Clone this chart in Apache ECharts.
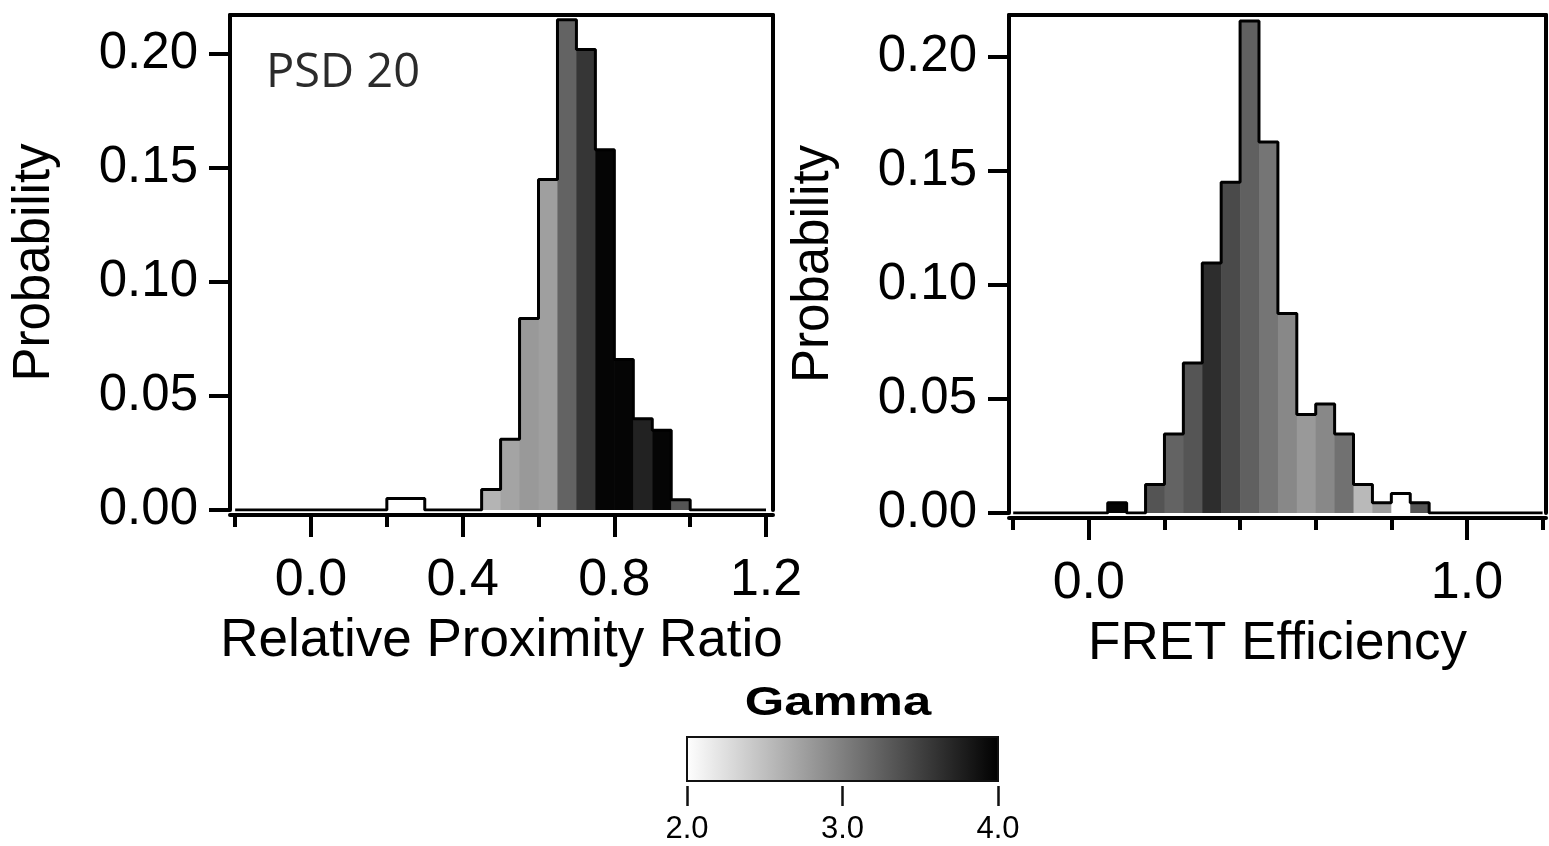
<!DOCTYPE html>
<html>
<head>
<meta charset="utf-8">
<title>PSD 20 - proximity ratio and FRET efficiency</title>
<script src="https://cdn.jsdelivr.net/npm/echarts@6/dist/echarts.min.js"></script>
<style>
html, body { margin: 0; padding: 0; background: #fff; }
#chart { width: 1549px; height: 846px; }
</style>
</head>
<body>
<div id="chart"></div>
<script>
// histogram bins (left edges), width 0.05, same for both panels
var binStarts = [-0.20, -0.15, -0.10, -0.05, 0.00, 0.05, 0.10, 0.15, 0.20, 0.25,
    0.30, 0.35, 0.40, 0.45, 0.50, 0.55, 0.60, 0.65, 0.70, 0.75,
    0.80, 0.85, 0.90, 0.95, 1.00, 1.05, 1.10, 1.15];
var binWidth = 0.05;

// relative proximity ratio
var rprProb = [0, 0, 0, 0, 0, 0, 0, 0, 0.005, 0.005,
    0, 0, 0, 0.009, 0.031, 0.084, 0.145, 0.215, 0.202, 0.158,
    0.066, 0.040, 0.035, 0.0045, 0, 0, 0, 0];
var rprGamma = [null, null, null, null, null, null, null, null, 2.0, 2.0,
    null, null, null, 2.59, 2.71, 2.80, 2.75, 3.22, 3.58, 3.96,
    3.96, 3.73, 3.96, 3.33, null, null, null, null];

// FRET efficiency
var fretProb = [0, 0, 0, 0, 0, 0.0045, 0, 0.0125, 0.0346, 0.0658,
    0.1096, 0.145, 0.2157, 0.1626, 0.0875, 0.0432, 0.0478, 0.0346, 0.0125, 0.0045,
    0.0085, 0.0045, 0, 0, 0, 0, 0, 0];
var fretGamma = [null, null, null, null, null, 3.96, null, 3.34, 3.22, 3.33,
    3.65, 3.42, 3.25, 3.08, 2.93, 2.80, 2.93, 3.11, 2.55, 2.78,
    2.0, 3.33, null, null, null, null, null, null];

// tick labels
var probTicks = [0, 0.05, 0.10, 0.15, 0.20];
var rprMajor = [0, 0.4, 0.8, 1.2];
var rprMinor = [-0.2, 0.2, 0.6, 1.0];
var fretMajor = [0, 1.0];
var fretMinor = [-0.2, 0.2, 0.4, 0.6, 0.8, 1.2];
var gammaTicks = [2, 3, 4];
var gammaRange = [2, 4];

var FONT = 'Liberation Sans';
var LW = 4;

function toBars(prob, gamma) {
    var out = [];
    for (var i = 0; i < binStarts.length; i++) {
        if (prob[i] > 0) {
            out.push([binStarts[i], binStarts[i] + binWidth, prob[i], gamma[i]]);
        }
    }
    return out;
}

// step outline around the whole histogram
function toOutline(prob) {
    var pts = [[binStarts[0], 0]];
    for (var i = 0; i < binStarts.length; i++) {
        pts.push([binStarts[i], prob[i]]);
        pts.push([binStarts[i] + binWidth, prob[i]]);
    }
    pts.push([binStarts[binStarts.length - 1] + binWidth, 0]);
    return pts;
}

function renderBin(params, api) {
    var p0 = api.coord([api.value(0), api.value(2)]);
    var p1 = api.coord([api.value(1), 0]);
    return {
        type: 'rect',
        shape: { x: p0[0], y: p0[1], width: p1[0] - p0[0] + 0.6, height: p1[1] - p0[1] },
        style: { fill: api.visual('color') }
    };
}

function renderColorbar(params, api) {
    var p0 = api.coord([api.value(0), 1]);
    var p1 = api.coord([api.value(1), 0]);
    return {
        type: 'rect',
        shape: { x: p0[0], y: p0[1], width: p1[0] - p0[0], height: p1[1] - p0[1] },
        style: {
            fill: new echarts.graphic.LinearGradient(0, 0, 1, 0, [
                { offset: 0, color: '#ffffff' },
                { offset: 1, color: '#000000' }
            ]),
            stroke: '#111',
            lineWidth: 2
        }
    };
}

function fmt(d) {
    return function (v) { return v.toFixed(d); };
}

// bottom axis with long ticks + labels
function xMain(grid, min, max, ticks, name) {
    return {
        gridIndex: grid, type: 'value', position: 'bottom', min: min, max: max, offset: 5,
        axisLine: { onZero: false, lineStyle: { color: '#000', width: LW } },
        axisTick: { customValues: ticks, length: 22, lineStyle: { color: '#000', width: LW } },
        axisLabel: { customValues: ticks, formatter: fmt(1), fontSize: 52, fontFamily: FONT, color: '#000', margin: 40 },
        splitLine: { show: false },
        name: name, nameLocation: 'middle', nameGap: 100,
        nameTextStyle: { fontSize: 53, fontFamily: FONT, color: '#000' }
    };
}

// bottom axis with short ticks only
function xMinor(grid, min, max, ticks) {
    return {
        gridIndex: grid, type: 'value', position: 'bottom', min: min, max: max, offset: 5,
        axisLine: { show: false, onZero: false },
        axisTick: { customValues: ticks, length: 12, lineStyle: { color: '#000', width: LW } },
        axisLabel: { show: false },
        splitLine: { show: false }
    };
}

// plain frame line
function xTop(grid, min, max) {
    return {
        gridIndex: grid, type: 'value', position: 'top', min: min, max: max,
        axisLine: { onZero: false, lineStyle: { color: '#000', width: LW } },
        axisTick: { show: false }, axisLabel: { show: false }, splitLine: { show: false }
    };
}

function yMain(grid, max) {
    return {
        gridIndex: grid, type: 'value', position: 'left', min: 0, max: max,
        axisLine: { onZero: false, lineStyle: { color: '#000', width: LW } },
        axisTick: { customValues: probTicks, length: 21, lineStyle: { color: '#000', width: LW } },
        axisLabel: { customValues: probTicks, formatter: fmt(2), fontSize: 51, fontFamily: FONT, color: '#000', margin: 32 },
        splitLine: { show: false },
        name: 'Probability', nameLocation: 'middle', nameGap: 170, nameRotate: 90,
        nameTextStyle: { fontSize: 51, fontFamily: FONT, color: '#000' }
    };
}

function yRight(grid, max) {
    return {
        gridIndex: grid, type: 'value', position: 'right', min: 0, max: max,
        axisLine: { onZero: false, lineStyle: { color: '#000', width: LW } },
        axisTick: { show: false }, axisLabel: { show: false }, splitLine: { show: false }
    };
}

var chart = echarts.init(document.getElementById('chart'));

var rprX = [-0.2136, 1.2184];
var fretX = [-0.2111, 1.209];

var option = {
    animation: false,
    backgroundColor: '#fff',
    grid: [
        { left: 230, top: 15, width: 543, height: 495, outerBoundsMode: 'none' },
        { left: 1009, top: 15, width: 537, height: 498, outerBoundsMode: 'none' },
        { left: 687, top: 737, width: 311, height: 44, outerBoundsMode: 'none' }
    ],
    xAxis: [
        xMain(0, rprX[0], rprX[1], rprMajor, 'Relative Proximity Ratio'),
        xMinor(0, rprX[0], rprX[1], rprMinor),
        xTop(0, rprX[0], rprX[1]),
        xMain(1, fretX[0], fretX[1], fretMajor, 'FRET Efficiency'),
        xMinor(1, fretX[0], fretX[1], fretMinor),
        xTop(1, fretX[0], fretX[1]),
        {
            gridIndex: 2, type: 'value', position: 'bottom', min: gammaRange[0], max: gammaRange[1], offset: 5,
            axisLine: { show: false, onZero: false },
            axisTick: { customValues: gammaTicks, length: 20, lineStyle: { color: '#111', width: 2.5 } },
            axisLabel: { customValues: gammaTicks, formatter: fmt(1), fontSize: 31, fontFamily: FONT, color: '#000', margin: 28 },
            splitLine: { show: false }
        }
    ],
    yAxis: [
        yMain(0, 0.2171),
        yRight(0, 0.2171),
        yMain(1, 0.2183),
        yRight(1, 0.2183),
        { gridIndex: 2, type: 'value', min: 0, max: 1, show: false }
    ],
    visualMap: {
        type: 'continuous', show: false,
        min: gammaRange[0], max: gammaRange[1], dimension: 3,
        seriesIndex: [0, 2],
        inRange: { color: ['#ffffff', '#000000'] }
    },
    graphic: [
        {
            type: 'text', x: 266, y: 74,
            style: { text: 'PSD 20', fontSize: 47, fontFamily: 'Open Sans', fill: '#2b2b2b',
                align: 'left', verticalAlign: 'middle', textAlign: 'left', textVerticalAlign: 'middle' }
        },
        {
            type: 'text', x: 838, y: 704, scaleX: 1.27,
            style: { text: 'Gamma', fontSize: 40, fontWeight: 'bold', fontFamily: FONT, fill: '#000',
                align: 'center', verticalAlign: 'middle', textAlign: 'center', textVerticalAlign: 'middle' }
        }
    ],
    series: [
        {
            type: 'custom', xAxisIndex: 0, yAxisIndex: 0,
            renderItem: renderBin, encode: { x: [0, 1], y: 2 },
            data: toBars(rprProb, rprGamma), silent: true
        },
        {
            type: 'line', xAxisIndex: 0, yAxisIndex: 0, data: toOutline(rprProb),
            symbol: 'none', lineStyle: { color: '#000', width: 3 }, z: 5, silent: true
        },
        {
            type: 'custom', xAxisIndex: 3, yAxisIndex: 2,
            renderItem: renderBin, encode: { x: [0, 1], y: 2 },
            data: toBars(fretProb, fretGamma), silent: true
        },
        {
            type: 'line', xAxisIndex: 3, yAxisIndex: 2, data: toOutline(fretProb),
            symbol: 'none', lineStyle: { color: '#000', width: 3 }, z: 5, silent: true
        },
        {
            type: 'custom', xAxisIndex: 6, yAxisIndex: 4,
            renderItem: renderColorbar, encode: { x: [0, 1] },
            data: [gammaRange], silent: true
        }
    ]
};

chart.setOption(option);
</script>
</body>
</html>
